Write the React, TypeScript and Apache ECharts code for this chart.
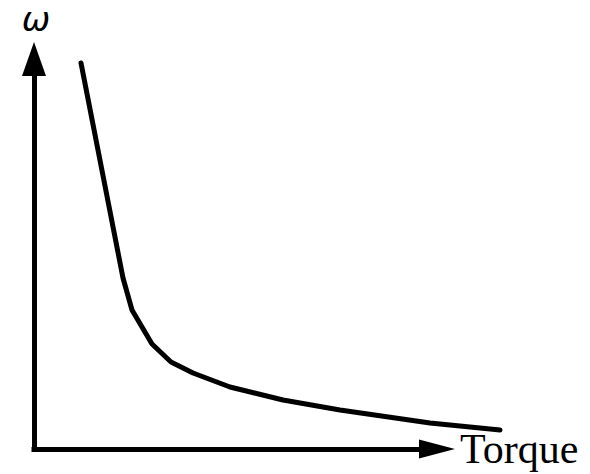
import React, { useEffect, useRef } from "react";
import * as echarts from "echarts";

// Curve (torque, angular speed)
const torque = [4.7, 8.9, 9.8, 11.8, 13.7, 15.9, 19.6, 24.9, 30.6, 39.6, 46.6];
const omega = [39.1, 17.6, 14.4, 11.0, 9.2, 8.1, 6.7, 5.4, 4.4, 3.1, 2.4];

const xAxisName = "Torque";
const yAxisName = "ω";

export default function App() {
  const ref = useRef<HTMLDivElement>(null);

  useEffect(() => {
    if (!ref.current) return;
    const chart = echarts.init(ref.current, null, { renderer: "svg" });
    const data = torque.map((t, i) => [t, omega[i]]);
    const hidden = {
      axisLine: { show: false },
      axisTick: { show: false },
      axisLabel: { show: false },
      splitLine: { show: false },
    };
    chart.setOption({
      animation: false,
      backgroundColor: "#ffffff",
      grid: [
        { left: 34, right: 153, top: 59, bottom: 20, containLabel: false },
        { left: 34, right: 76, top: 59, bottom: 20, containLabel: false },
      ],
      graphic: [
        {
          type: "text",
          x: 36,
          y: 19,
          style: {
            text: yAxisName,
            font: "italic 34px 'DejaVu Sans'",
            fill: "#000",
            align: "center",
            verticalAlign: "middle",
          },
        },
      ],
      xAxis: [
        {
          type: "value",
          gridIndex: 0,
          min: 0,
          max: 40.3,
          name: xAxisName,
          nameLocation: "end",
          nameGap: 23,
          nameTextStyle: {
            fontFamily: "Liberation Serif",
            fontSize: 42,
            lineHeight: 42,
            color: "#000",
            verticalAlign: "middle",
            align: "left",
            padding: [0, 0, 8, 0],
          },
          axisLine: {
            show: true,
            symbol: ["none", "triangle"],
            symbolSize: [19, 36],
            lineStyle: { color: "#000", width: 5, cap: "square" },
          },
          axisTick: { show: false },
          axisLabel: { show: false },
          splitLine: { show: false },
        },
        { type: "value", gridIndex: 1, min: 0, max: 48, ...hidden },
      ],
      yAxis: [
        {
          type: "value",
          gridIndex: 0,
          min: 0,
          max: 39.5,
          axisLine: {
            show: true,
            symbol: ["none", "triangle"],
            symbolSize: [24, 34],
            lineStyle: { color: "#000", width: 5, cap: "square" },
          },
          axisTick: { show: false },
          axisLabel: { show: false },
          splitLine: { show: false },
        },
        { type: "value", gridIndex: 1, min: 0, max: 39.5, ...hidden },
      ],
      series: [
        {
          type: "line",
          xAxisIndex: 1,
          yAxisIndex: 1,
          data,
          clip: false,
          showSymbol: false,
          symbol: "none",
          smooth: false,
          lineStyle: { color: "#000", width: 5, cap: "round", join: "round" },
        },
      ],
    });
    return () => chart.dispose();
  }, []);

  return <div ref={ref} style={{ width: 590, height: 474, position: "absolute", left: 0, top: 0 }} />;
}
